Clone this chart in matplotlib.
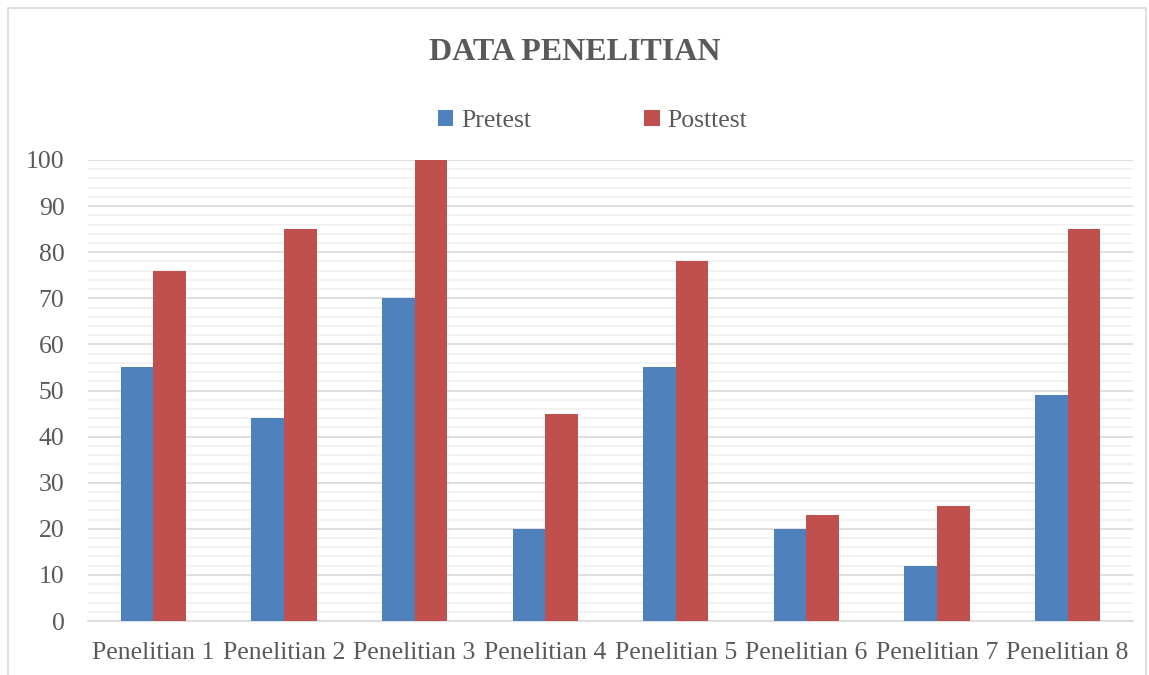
import matplotlib.pyplot as plt
import numpy as np
from matplotlib.patches import Rectangle
from matplotlib.ticker import MultipleLocator

categories = ['Penelitian 1', 'Penelitian 2', 'Penelitian 3', 'Penelitian 4',
              'Penelitian 5', 'Penelitian 6', 'Penelitian 7', 'Penelitian 8']
pretest = [55, 44, 70, 20, 55, 20, 12, 49]
posttest = [76, 85, 100, 45, 78, 23, 25, 85]

blue = '#4f81bd'
red = '#c0504d'
txt = '#595959'

plt.rcParams['font.family'] = ['Liberation Serif', 'DejaVu Serif']

fig = plt.figure(figsize=(11.49, 6.75), dpi=100)
ax = fig.add_axes([88/1149, 54/675, (1133-88)/1149, (621-160)/675])

x = np.arange(len(categories))
w = 0.25
ax.bar(x - w/2, pretest, w, color=blue, label='Pretest', zorder=3)
ax.bar(x + w/2, posttest, w, color=red, label='Posttest', zorder=3)

ax.set_xlim(-0.5, len(categories) - 0.5)
ax.set_ylim(0, 100)
ax.yaxis.set_major_locator(MultipleLocator(10))
ax.yaxis.set_minor_locator(MultipleLocator(2))
ax.grid(which='major', axis='y', color='#d9d9d9', linewidth=1.2, zorder=0)
ax.grid(which='minor', axis='y', color='#f0f0f0', linewidth=1.2, zorder=0)
ax.set_axisbelow(True)

for s in ['top', 'right', 'left']:
    ax.spines[s].set_visible(False)
ax.spines['bottom'].set_color('#d9d9d9')
ax.spines['bottom'].set_linewidth(1.2)

ax.set_xticks(x)
ax.set_xticklabels(categories)
ax.tick_params(axis='both', which='both', length=0, colors=txt, labelsize=18.5)
ax.tick_params(axis='y', pad=17)
ax.tick_params(axis='x', pad=15)

fig.text(0.5, 1 - 53/675, 'DATA PENELITIAN', ha='center', va='center',
         fontsize=23, fontweight='bold', color=txt)

fig.legend(loc='center', bbox_to_anchor=(0.5 + 18/1149, 1 - 121/675), ncol=2,
           frameon=False, fontsize=18.5, labelcolor=txt, handlelength=0.6,
           handleheight=0.6, handletextpad=0.3, columnspacing=4.4)

fig.patches.append(Rectangle((8/1149, -0.05), 1138/1149, 667/675 + 0.05,
                             transform=fig.transFigure, fill=False,
                             edgecolor='#d9d9d9', linewidth=1.2))

fig.savefig('out.png', dpi=100)
